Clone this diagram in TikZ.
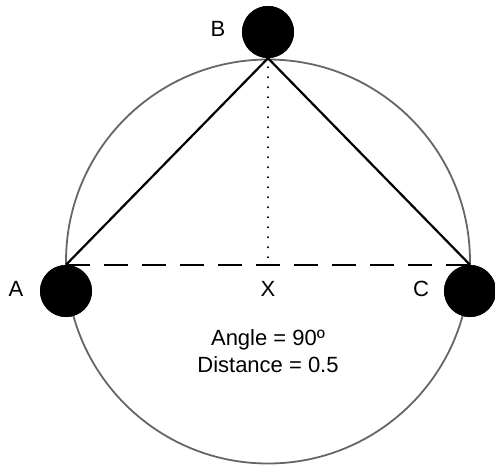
\documentclass[tikz,border=0pt]{standalone}
\usepackage{fontspec}
\setmainfont{Liberation Sans}
\begin{document}
\begin{tikzpicture}[x=1pt,y=-1pt,
  dot/.style={circle,fill=black,minimum size=52pt,inner sep=0pt},
  lbl/.style={font=\fontsize{22}{26}\selectfont,anchor=base,inner sep=0pt},
  rim/.style={draw=black!60,line width=1.8pt},
  side/.style={draw=black,line width=2.2pt},
  base/.style={draw=black,line width=2.4pt,dash pattern=on 24pt off 14pt},
  height/.style={draw=black,line width=2.2pt,line cap=round,dash pattern=on 0pt off 10pt}]
\useasboundingbox (0,0) rectangle (495,466);
\coordinate (O) at (268,261.5);
\draw[rim] (O) circle (202);
\node[dot] (A) at (66,291) {};
\node[dot] (B) at (268,32) {};
\node[dot] (C) at (470,291) {};
\coordinate (X) at (268,265);
\draw[base] (A.north) -- (C.north);
\draw[height] ([yshift=11pt]B.south) -- (X);
\draw[side] (A.north) -- (B.south) -- (C.north);
\node[dot] at (A) {};
\node[dot] at (B) {};
\node[dot] at (C) {};
\node[lbl] (la) at (16,296) {A};
\node[lbl] (lb) at (218,36) {B};
\node[lbl] (lc) at (421,296) {C};
\node[lbl] (lx) at (268,296) {X};
\node[lbl] (ang) at (268,345) {Angle = 90º};
\node[lbl] (dist) at (268,372) {Distance = 0.5};
\end{tikzpicture}
\end{document}
